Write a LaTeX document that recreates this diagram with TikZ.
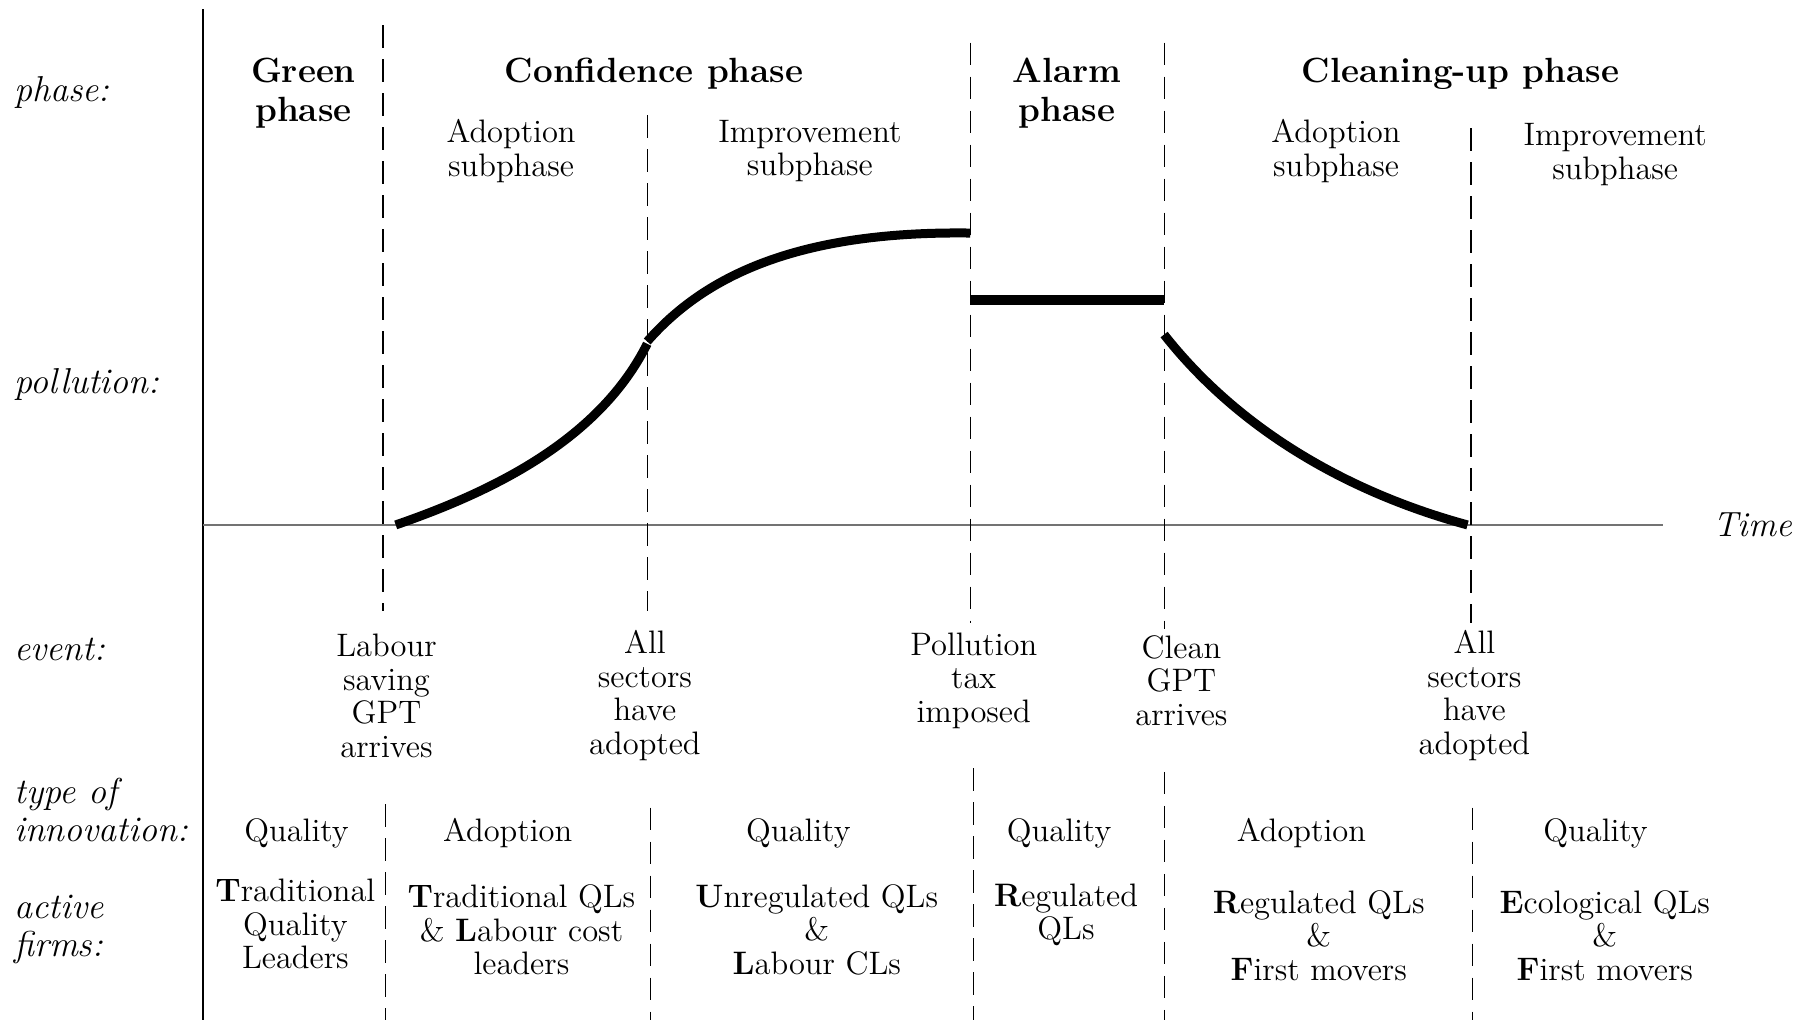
\documentclass[tikz,border=0pt]{standalone}
\begin{document}
\begin{tikzpicture}[x=0.4615pt,y=-0.4615pt,
    every node/.style={inner sep=0pt,align=center,font=\fontsize{13}{13.4}\selectfont},
    rowlabel/.style={anchor=west,align=left,font=\fontsize{14.4}{15.2}\selectfont\itshape},
    phasehead/.style={font=\fontsize{14}{15.7}\selectfont\bfseries},
    divider/.style={dash pattern=on 9pt off 4.6pt,line width=0.45pt},
    trend/.style={line width=3.6pt}]
    \useasboundingbox (0,0) rectangle (1568,890);

    \coordinate (origin) at (176,455);
    \draw[line width=0.5pt] (176,8) -- (176,884);
    \node[font=\fontsize{14}{14}\selectfont\itshape] (time) at (1519,455) {Time};
    \draw[line width=0.6pt,black!55] (origin) -- ([xshift=-20pt]time.west);

    \foreach \x/\t/\b/\lx/\l in {332/22/530/334/697, 561/100/530/564/700, 841/37/540/844/666, 1009/37/545/1009/669, 1275/111/540/1276/700}{
        \draw[divider] (\x,\t) -- (\x,\b);
        \draw[divider] (\lx,\l) -- (\lx,884);
    }

    \coordinate (gptA) at (343,455);
    \coordinate (adoptA) at (561,298);
    \coordinate (adoptB) at (561,296);
    \coordinate (tax) at (841,202);
    \coordinate (barL) at (841,260);
    \coordinate (barR) at (1009,260);
    \coordinate (gptB) at (1009,290);
    \coordinate (adoptC) at (1272,455);
    \draw[trend] (gptA) .. controls (430,425) and (520,380) .. (adoptA);
    \draw[trend] (adoptB) .. controls (610,240) and (690,200) .. (tax);
    \draw[trend,line width=4.2pt] (barL) -- (barR);
    \draw[trend] (gptB) .. controls (1080,380) and (1180,430) .. (adoptC);

    \node[rowlabel] (lphase) at (12,80) {phase:};
    \node[rowlabel] (lpoll) at (12,333) {pollution:};
    \node[rowlabel] (levent) at (12,563) {event:};
    \node[rowlabel] (ltype) at (12,702) {type of\\innovation:};
    \node[rowlabel] (lfirms) at (12,806) {active\\firms:};

    \node[phasehead] (green) at (263,81) {Green\\phase};
    \node[phasehead] (conf) at (567,64) {Confidence phase};
    \node[phasehead] (alarm) at (925,81) {Alarm\\phase};
    \node[phasehead] (clean) at (1266,64) {Cleaning-up phase};

    \node (subA) at (443,131) {Adoption\\subphase};
    \node (subI) at (702,131) {Improvement\\subphase};
    \node (subA2) at (1158,131) {Adoption\\subphase};
    \node (subI2) at (1400,134) {Improvement\\subphase};

    \node (ev1) at (335,603) {Labour\\saving\\GPT\\arrives};
    \node (ev2) at (559,603) {All\\sectors\\have\\adopted};
    \node (ev3) at (844,590) {Pollution\\tax\\imposed};
    \node (ev4) at (1024,590) {Clean\\GPT\\arrives};
    \node (ev5) at (1278,603) {All\\sectors\\have\\adopted};

    \foreach \n/\x/\t in {1/257/Quality, 2/440/Adoption, 3/692/Quality, 4/918/Quality, 5/1128/Adoption, 6/1383/Quality}
        \node (inno\n) at (\x,722) {\t};

    \node (f1) at (256,801) {\textbf{T}raditional\\Quality\\Leaders};
    \node (f2) at (452,806) {\textbf{T}raditional QLs\\\& \textbf{L}abour cost\\leaders};
    \node (f3) at (708,806) {\textbf{U}nregulated QLs\\\&\\\textbf{L}abour CLs};
    \node (f4) at (924,793) {\textbf{R}egulated\\QLs};
    \node (f5) at (1143,811) {\textbf{R}egulated QLs\\\&\\\textbf{F}irst movers};
    \node (f6) at (1391,811) {\textbf{E}cological QLs\\\&\\\textbf{F}irst movers};
\end{tikzpicture}
\end{document}
